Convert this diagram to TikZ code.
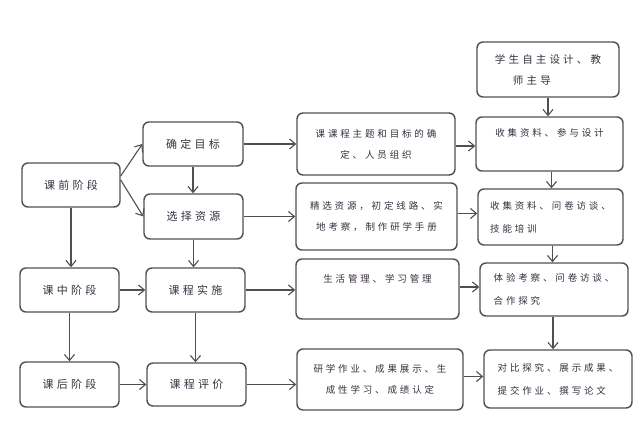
\documentclass[tikz,border=0pt]{standalone}
\usepackage{fontspec}
\usetikzlibrary{arrows.meta,calc}
\newfontfamily\cjk[LetterSpace=30]{Noto Sans CJK SC}
\definecolor{ln}{HTML}{505050}
\definecolor{tx}{HTML}{3A3040}
\tikzset{
  box/.style={draw=ln, line width=1.4pt, rounded corners=6pt, inner sep=2pt, text=tx},
  lbox/.style={box, font=\cjk\fontsize{11}{13}\selectfont, align=center},
  mbox/.style={box, font=\cjk\fontsize{9.5}{21}\selectfont, align=center},
  rbox/.style={box, font=\cjk\fontsize{9.5}{23}\selectfont, align=left},
  arr/.style={draw=ln, line width=1.1pt, -{Straight Barb[length=6pt,width=10pt,line width=1.1pt]}}
}
\begin{document}
\begin{tikzpicture}[x=1pt,y=-1pt]
\useasboundingbox[fill=white] (0,0) rectangle (640,436);
% left column
\node[lbox, minimum width=98pt, minimum height=44pt] (qian) at (71,185) {课前阶段};
\node[lbox, minimum width=99pt, minimum height=44pt] (zhong) at (69.5,290) {课中阶段};
\node[lbox, minimum width=99pt, minimum height=45pt] (hou) at (69.5,384.5) {课后阶段};
% second column
\node[lbox, minimum width=100pt, minimum height=44pt] (mubiao) at (193,144) {确定目标};
\node[lbox, minimum width=99pt, minimum height=45pt] (ziyuan) at (193.5,216.5) {选择资源};
\node[lbox, minimum width=99pt, minimum height=44pt] (shishi) at (195.5,290) {课程实施};
\node[lbox, minimum width=99pt, minimum height=43pt] (pingjia) at (196.5,384.5) {课程评价};
% middle column
\node[mbox, minimum width=158pt, minimum height=62pt] (m1) at (376,144) {课课程主题和目标的确\\定、人员组织};
\node[mbox, minimum width=161pt, minimum height=67pt] (m2) at (376.5,216.5) {精选资源，初定线路、实\\地考察，制作研学手册};
\node[mbox, minimum width=163pt, minimum height=60pt] (m3) at (377.5,289) {生活管理、学习管理\\\mbox{}};
\node[mbox, minimum width=166pt, minimum height=61pt] (m4) at (380,379.5) {研学作业、成果展示、生\\成性学习、成绩认定};
% right column
\node[rbox, font=\cjk\fontsize{10.5}{21}\selectfont, minimum width=142pt, minimum height=55pt] (top) at (548,69.5) {学生自主设计、教\\\hspace*{18pt}师主导};
\node[rbox, minimum width=147pt, minimum height=54pt] (r1) at (549.5,144) {收集资料、参与设计\\\mbox{}};
\node[rbox, minimum width=145pt, minimum height=56pt] (r2) at (550.5,217) {收集资料、问卷访谈、\\技能培训};
\node[rbox, minimum width=148pt, minimum height=53pt] (r3) at (554,289.5) {体验考察、问卷访谈、\\合作探究};
\node[rbox, minimum width=148pt, minimum height=58pt] (r4) at (558,379) {对比探究、展示成果、\\提交作业、撰写论文};
% helper coordinates
\coordinate (q1) at ($(qian.east)+(0,-9)$);
\coordinate (q2) at ($(qian.east)+(0,-5)$);
\coordinate (a1) at ($(m1.east)+(0,2)$);
\coordinate (a2) at ($(m2.east)+(0,-3)$);
\coordinate (a3) at ($(m3.east)+(0,-2)$);
\coordinate (a4) at ($(m4.east)+(0,-3)$);
\coordinate (b1) at ($(r1.south)+(2,0)$);
\coordinate (b2) at ($(r2.south)+(2,0)$);
\coordinate (b3) at ($(r3.south)+(-1,0)$);
% arrows from 课前阶段
\draw[arr] (q1) -- (mubiao.west);
\draw[arr] (q2) -- (ziyuan.west);
% vertical arrows left
\draw[arr] (qian.south) -- (qian.south |- zhong.north);
\draw[arr] (zhong.south) -- (zhong.south |- hou.north);
\draw[arr] (mubiao.south) -- (mubiao.south |- ziyuan.north);
\draw[arr] (ziyuan.south) -- (ziyuan.south |- shishi.north);
\draw[arr] (shishi.south) -- (shishi.south |- pingjia.north);
% horizontal arrows left
\draw[arr] (zhong.east) -- (zhong.east -| shishi.west);
\draw[arr] (hou.east) -- (hou.east -| pingjia.west);
% to middle column
\draw[arr] (mubiao.east) -- (mubiao.east -| m1.west);
\draw[arr] (ziyuan.east) -- (ziyuan.east -| m2.west);
\draw[arr] (shishi.east) -- (shishi.east -| m3.west);
\draw[arr] (pingjia.east) -- (pingjia.east -| m4.west);
% to right column
\draw[arr] (a1) -- (a1 -| r1.west);
\draw[arr] (a2) -- (a2 -| r2.west);
\draw[arr] (a3) -- (a3 -| r3.west);
\draw[arr] (a4) -- (a4 -| r4.west);
% right vertical arrows
\draw[arr] (top.south) -- (top.south |- r1.north);
\draw[arr] (b1) -- (b1 |- r2.north);
\draw[arr] (b2) -- (b2 |- r3.north);
\draw[arr] (b3) -- (b3 |- r4.north);
\end{tikzpicture}
\end{document}
